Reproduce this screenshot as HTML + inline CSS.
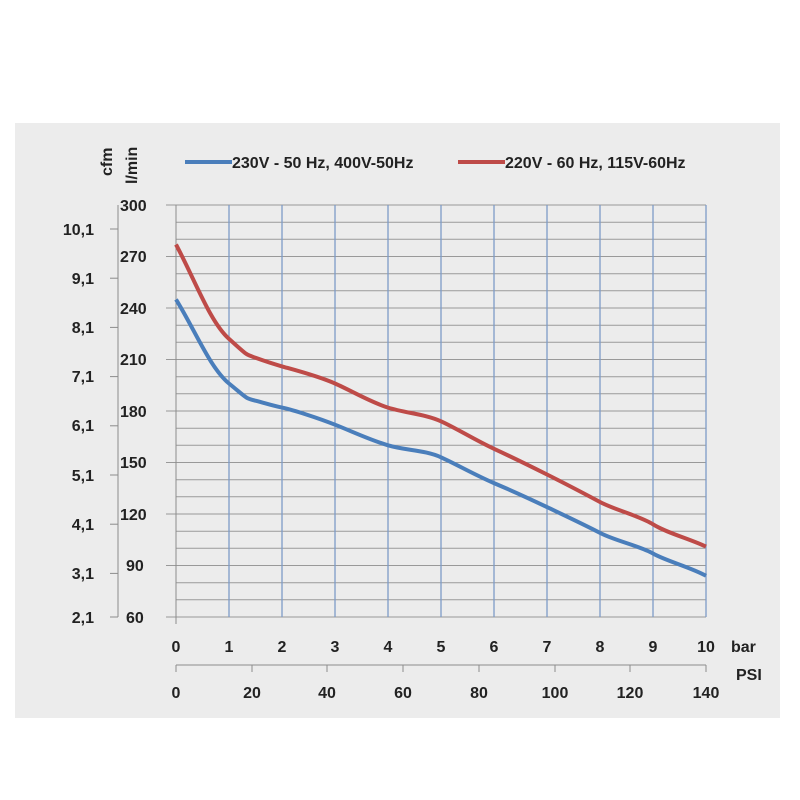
<!DOCTYPE html>
<html><head><meta charset="utf-8"><style>
body{margin:0;background:#fff;}
svg{display:block;font-family:"Liberation Sans",sans-serif;font-weight:bold;fill:#222;}
</style></head><body>
<svg width="800" height="800" viewBox="0 0 800 800">
<rect x="15" y="123" width="765" height="595" fill="#ececec"/>
<g stroke="#999" stroke-width="1">
<line x1="176" x2="706" y1="205" y2="205"/><line x1="176" x2="706" y1="222.2" y2="222.2"/><line x1="176" x2="706" y1="239.3" y2="239.3"/>
<line x1="176" x2="706" y1="256.5" y2="256.5"/><line x1="176" x2="706" y1="273.7" y2="273.7"/><line x1="176" x2="706" y1="290.8" y2="290.8"/>
<line x1="176" x2="706" y1="308" y2="308"/><line x1="176" x2="706" y1="325.2" y2="325.2"/><line x1="176" x2="706" y1="342.3" y2="342.3"/>
<line x1="176" x2="706" y1="359.5" y2="359.5"/><line x1="176" x2="706" y1="376.7" y2="376.7"/><line x1="176" x2="706" y1="393.8" y2="393.8"/>
<line x1="176" x2="706" y1="411" y2="411"/><line x1="176" x2="706" y1="428.2" y2="428.2"/><line x1="176" x2="706" y1="445.3" y2="445.3"/>
<line x1="176" x2="706" y1="462.5" y2="462.5"/><line x1="176" x2="706" y1="479.7" y2="479.7"/><line x1="176" x2="706" y1="496.8" y2="496.8"/>
<line x1="176" x2="706" y1="514" y2="514"/><line x1="176" x2="706" y1="531.2" y2="531.2"/><line x1="176" x2="706" y1="548.3" y2="548.3"/>
<line x1="176" x2="706" y1="565.5" y2="565.5"/><line x1="176" x2="706" y1="582.7" y2="582.7"/><line x1="176" x2="706" y1="599.8" y2="599.8"/>
<line x1="166" x2="176" y1="205" y2="205"/><line x1="166" x2="176" y1="256.5" y2="256.5"/><line x1="166" x2="176" y1="308" y2="308"/><line x1="166" x2="176" y1="359.5" y2="359.5"/><line x1="166" x2="176" y1="411" y2="411"/><line x1="166" x2="176" y1="462.5" y2="462.5"/><line x1="166" x2="176" y1="514" y2="514"/><line x1="166" x2="176" y1="565.5" y2="565.5"/>
<line x1="166" x2="706" y1="617" y2="617"/>
</g>
<g stroke="#7d9bc8" stroke-width="1.3">
<line x1="229" x2="229" y1="205" y2="617"/><line x1="282" x2="282" y1="205" y2="617"/><line x1="335" x2="335" y1="205" y2="617"/><line x1="388" x2="388" y1="205" y2="617"/><line x1="441" x2="441" y1="205" y2="617"/><line x1="494" x2="494" y1="205" y2="617"/><line x1="547" x2="547" y1="205" y2="617"/><line x1="600" x2="600" y1="205" y2="617"/><line x1="653" x2="653" y1="205" y2="617"/><line x1="706" x2="706" y1="205" y2="617"/>
</g>
<g stroke="#8c8c8c"><line x1="176" x2="176" y1="205" y2="624"/>
<line x1="118" x2="118" y1="205" y2="617"/>
<line x1="110" x2="118" y1="229" y2="229"/><line x1="110" x2="118" y1="278.2" y2="278.2"/><line x1="110" x2="118" y1="327.4" y2="327.4"/><line x1="110" x2="118" y1="376.6" y2="376.6"/><line x1="110" x2="118" y1="425.8" y2="425.8"/><line x1="110" x2="118" y1="475" y2="475"/><line x1="110" x2="118" y1="524.2" y2="524.2"/><line x1="110" x2="118" y1="573.4" y2="573.4"/><line x1="110" x2="118" y1="617" y2="617"/>
<line x1="176" x2="706" y1="665" y2="665"/>
<line x1="176" x2="176" y1="665" y2="672"/><line x1="252" x2="252" y1="665" y2="672"/><line x1="327" x2="327" y1="665" y2="672"/><line x1="403" x2="403" y1="665" y2="672"/><line x1="479" x2="479" y1="665" y2="672"/><line x1="555" x2="555" y1="665" y2="672"/><line x1="630" x2="630" y1="665" y2="672"/><line x1="706" x2="706" y1="665" y2="672"/>
</g>
<g font-size="16">
<text x="120" y="211">300</text><text x="120" y="262">270</text><text x="120" y="314">240</text><text x="120" y="365">210</text><text x="120" y="417">180</text><text x="120" y="468">150</text><text x="120" y="520">120</text><text x="126" y="571">90</text><text x="126" y="623">60</text>
<g text-anchor="end"><text x="94" y="235">10,1</text><text x="94" y="284">9,1</text><text x="94" y="333">8,1</text><text x="94" y="382">7,1</text><text x="94" y="431">6,1</text><text x="94" y="481">5,1</text><text x="94" y="530">4,1</text><text x="94" y="579">3,1</text><text x="94" y="623">2,1</text></g>
<g text-anchor="middle"><text x="176" y="652">0</text><text x="229" y="652">1</text><text x="282" y="652">2</text><text x="335" y="652">3</text><text x="388" y="652">4</text><text x="441" y="652">5</text><text x="494" y="652">6</text><text x="547" y="652">7</text><text x="600" y="652">8</text><text x="653" y="652">9</text><text x="706" y="652">10</text>
<text x="176" y="698">0</text><text x="252" y="698">20</text><text x="327" y="698">40</text><text x="403" y="698">60</text><text x="479" y="698">80</text><text x="555" y="698">100</text><text x="630" y="698">120</text><text x="706" y="698">140</text></g>
<text x="731" y="652">bar</text><text x="736" y="680">PSI</text>
<text transform="translate(112,176) rotate(-90)">cfm</text>
<text transform="translate(137,184) rotate(-90)">l/min</text>
<text x="232" y="168">230V - 50 Hz, 400V-50Hz</text>
<text x="505" y="168">220V - 60 Hz, 115V-60Hz</text>
</g>
<line x1="185" x2="232" y1="162" y2="162" stroke="#4a7ebb" stroke-width="4"/>
<line x1="458" x2="505" y1="162" y2="162" stroke="#be4b48" stroke-width="4"/>
<path d="M176,299.4 C195,330 210,368 229,383.5 S245,398 255.5,400.7 S270,405 282,407.6 S318,418 335,424.7 S370,440 388,445.3 S425,450 441,457.3 S475,475 494,483.1 S530,499 547,507.1 S585,525 600,532.9 S640,546 653,553.5 S690,567 706,575.8" fill="none" stroke="#4a7ebb" stroke-width="4" stroke-linejoin="round"/>
<path d="M176,244.5 C195,280 210,322 229,338.9 S245,354 255.5,357.8 S270,363 282,366.4 S318,376 335,383.5 S370,402 388,407.6 S425,414 441,421.3 S475,440 494,448.8 S530,466 547,474.5 S585,494 600,502 S640,516 653,524.3 S690,539 706,546.6" fill="none" stroke="#be4b48" stroke-width="4" stroke-linejoin="round"/>
</svg>
</body></html>
